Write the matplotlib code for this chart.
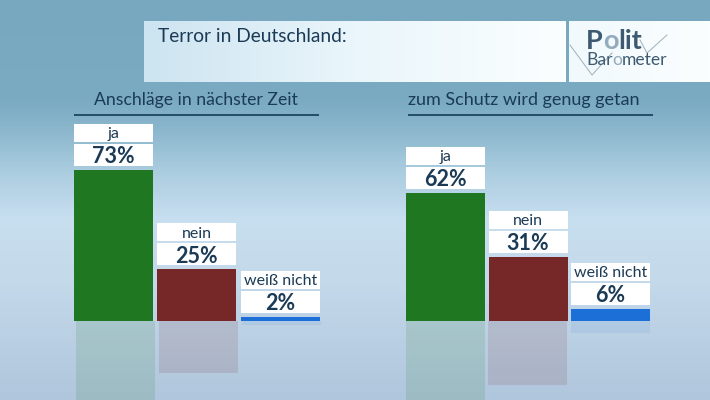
import numpy as np
import matplotlib
matplotlib.use("Agg")
import matplotlib.pyplot as plt
from matplotlib.colors import LinearSegmentedColormap as LSC
from matplotlib.patches import Rectangle

title = "Terror in Deutschland:"
categories = ["ja", "nein", "weiß nicht"]
panel_titles = ["Anschläge in nächster Zeit", "zum Schutz wird genug getan"]
values_attacks = [73, 25, 2]
values_protection = [62, 31, 6]
colors = ["#1f7821", "#762727", "#1c6fd6"]
refl_alpha = [.13, .13, .08]
TXT = "#1b3a55"
plt.rcParams["font.family"] = ["Lato", "DejaVu Sans"]

W, H = 710, 400
fig = plt.figure(figsize=(W/100, H/100), dpi=100)

# backdrop and chrome, in pixel coordinates
bg = fig.add_axes([0, 0, 1, 1], zorder=0)
bg.axis("off")
stops = [(0, "#78a8bf"), (.25, "#7aabc2"), (.33, "#8db8ce"), (.43, "#abcde0"), (.55, "#c8dff0"),
         (.70, "#c4d9ea"), (1, "#b0c6dc")]
bg.imshow(np.linspace(0, 1, 400)[:, None], cmap=LSC.from_list("b", stops), aspect="auto",
          extent=(0, W, H, 0), vmin=0, vmax=1)
lg = LSC.from_list("t", ["#cde4f1", "#eaf6fb", "#fbfeff"])
bg.imshow(np.linspace(0, 1, 200)[None, :], cmap=lg, aspect="auto", extent=(144, 566, 82, 21), vmin=0, vmax=1)
bg.imshow(np.linspace(.7, 1, 50)[None, :], cmap=lg, aspect="auto", extent=(569, 710, 82, 21), vmin=0, vmax=1)
bg.set_xlim(0, W); bg.set_ylim(H, 0)
bg.text(158, 37, title, fontsize=13.8, color=TXT, va="center", ha="left")
bg.plot([570, 592, 612], [45, 75, 53], color="#9fb0ba", lw=.7)
bg.plot([640, 647, 667], [40, 53, 35], color="#9fb0ba", lw=.7)
for x, s, c in [(586, "P", "#3d5a72"), (603, "o", "#93abbb"), (618.5, "lit", "#3d5a72")]:
    bg.text(x, 41, s, fontsize=19.5, fontweight="bold", color=c, va="center")
for x, s, c in [(586, "Bar", "#3d5a72"), (612, "o", "#93abbb"), (621.5, "meter", "#3d5a72")]:
    bg.text(x, 60, s, fontsize=12.6, color=c, va="center")

PX = 2.07            # pixels per percentage point
BASE = 321           # baseline pixel row
def panel(x0, x1, first_center, step, bar_w, vals, head, head_cx, rule, refl_dx, head_fs):
    ax = fig.add_axes([x0/W, 0, (x1-x0)/W, 1], zorder=2)
    ax.set_xlim((x0-first_center)/step, (x1-first_center)/step)
    ax.set_ylim(-(H-BASE)/PX, BASE/PX)
    ax.axis("off"); ax.patch.set_alpha(0)
    xs = np.arange(len(vals)); w = bar_w/step
    ax.bar(xs, vals, width=w, color=colors, zorder=3)
    for x, v, c, a in zip(xs, vals, colors, refl_alpha):
        ax.bar(x + refl_dx/step, -v, width=w, color=c, alpha=a, zorder=2)
    for x, v, c in zip(xs, vals, categories):
        for lo, hi, s, fs, fw in [(4, 26, f"{v}%", 15.5, "bold"), (28, 46, c, 11.5, "normal")]:
            ax.add_patch(Rectangle((x-w/2, v+lo/PX), w, (hi-lo)/PX, fc="white", ec="none", zorder=4))
            ax.text(x, v+(lo+hi)/2/PX, s, ha="center", va="center_baseline", fontsize=fs,
                    fontweight=fw, color=TXT, zorder=5)
    bg.text(head_cx, 100, head, ha="center", va="center", fontsize=head_fs, color=TXT)
    bg.plot(rule, [115, 115], color="#1f4560", lw=1.3, solid_capstyle="butt")

panel(60, 330, 113.5, 83.4, 79, values_attacks, panel_titles[0], 196, [74, 319], 1.5, 12.7)
panel(395, 665, 445.5, 82.5, 79, values_protection, panel_titles[1], 524, [408, 653], -0.5, 13.0)
fig.savefig("out.png", dpi=100)
